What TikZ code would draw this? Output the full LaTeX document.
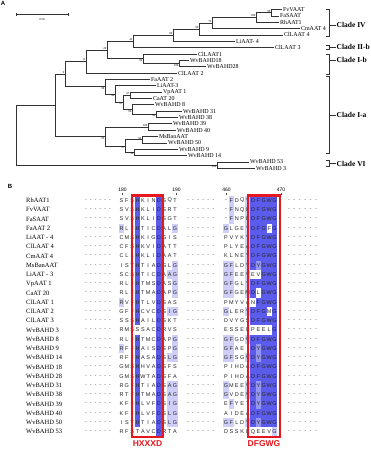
\documentclass[tikz,border=0pt]{standalone}
\usepackage{fontspec}
\setmainfont{Liberation Serif}
\setsansfont{Liberation Sans}
\usetikzlibrary{positioning}

\definecolor{shade0}{RGB}{255,255,255}
\definecolor{shade1}{RGB}{206,206,248}
\definecolor{shade2}{RGB}{150,150,240}
\definecolor{shade3}{RGB}{92,92,236}
\definecolor{boxred}{RGB}{228,24,30}

% one block of residues: letter + shade digit, '.' = empty cell
\makeatletter
\newcount\sq@k
\newcommand\seqblock[5]{%
  \def\sq@p{#1}\def\sq@x{#2}\def\sq@d{#3}\def\sq@y{#4}\sq@k=0
  \expandafter\sq@loop#5\relax\relax}
\def\sq@loop#1#2{\ifx\relax#1\else
    \ifx.#1\else
      \node[res,fill=shade#2] (\sq@p-\the\sq@k) at ({\sq@x+\sq@d*\the\sq@k},\sq@y) {#1};
    \fi
    \advance\sq@k by 1
    \expandafter\sq@loop\fi}
\makeatother

\begin{document}
\begin{tikzpicture}[x=1pt, y=-1pt,
  br/.style={draw=black!80, line width=0.6pt},
  leaf/.style={anchor=west, inner sep=0.8pt, font=\fontsize{6}{7}\selectfont},
  bs/.style={inner sep=0.4pt, font=\fontsize{3}{3}\selectfont},
  clade/.style={anchor=west, inner sep=0.5pt, font=\fontsize{7.5}{9}\selectfont\bfseries},
  panel/.style={inner sep=0pt, font=\fontsize{6}{7}\sffamily\bfseries},
  seqname/.style={anchor=west, inner sep=0pt, font=\fontsize{6.5}{7}\selectfont},
  res/.style={inner sep=0pt, minimum width=5.4pt, minimum height=9.25pt, font=\fontsize{5.5}{6}\sffamily, text=black!85},
  gap/.style={inner sep=0pt, font=\fontsize{5.5}{6}\sffamily, text=black!70},
  numlab/.style={inner sep=0pt, font=\fontsize{5}{6}\sffamily},
  motif/.style={inner sep=0pt, font=\fontsize{8.5}{10}\sffamily\bfseries, text=boxred}
]
  \path[fill=white] (0,0) rectangle (370,449);
  \useasboundingbox (0,0) rectangle (370,449);

  % ---- A: tree
  \node[panel] (pa) at (3,3) {A};
  \coordinate (sb1) at (16,14.7);
  \coordinate (sb2) at (68,14.7);
  \draw[br] (sb1) -- (sb2);
  \draw[br] ([yshift=-1.5pt]sb1) -- ([yshift=1.5pt]sb1) ([yshift=-1.5pt]sb2) -- ([yshift=1.5pt]sb2);
  \node[bs] (sbl) at (42,19.5) {0.50};

  \foreach \nm/\lab/\lx [count=\i from 0] in {
    fv/FvVAAT/282, fs/FaSAAT/279, rh/RhAAT1/279, cm4/CmAAT 4/300, cl4/ClLAAT 4/283,
    li4/LiAAT- 4/235, cl3/ClLAAT 3/274, cl1/ClLAAT1/197, wv18/WvBAHD18/189, wv28/WvBAHD28/206,
    cl2/ClLAAT 2/177, fa2/FaAAT 2/150, li3/LiAAT-3/156, vp1/VpAAT 1/162, ca20/CaAT 20/152,
    wv8/WvBAHD 8/154, wv31/WvBAHD 31/182, wv38/WvBAHD 38/178, wv39/WvBAHD 39/172, wv40/WvBAHD 40/176,
    ms/MsBanAAT/158, wv50/WvBAHD 50/167, wv9/WvBAHD 9/178, wv14/WvBAHD 14/187, wv53/WvBAHD 53/249, wv3/WvBAHD 3/255}
    \node[leaf] (\nm) at (\lx,{9.5+6.35*\i}) {\lab};

  \coordinate (n99a) at (271,12.68);
  \coordinate (n100a) at (256,17.44);
  \coordinate (n76) at (212,22.99);
  \coordinate (n90a) at (199,28.95);
  \coordinate (n90b) at (173,35.1);
  \coordinate (n42) at (133,41.35);
  \coordinate (n100b) at (179,63.48);
  \coordinate (n99b) at (143,58.71);
  \coordinate (n20) at (107,50.03);
  \coordinate (n11) at (86,61.52);
  \coordinate (n97a) at (130,95.23);
  \coordinate (n99c) at (156,114.28);
  \coordinate (n94) at (132,109.51);
  \coordinate (n97b) at (123,102.37);
  \coordinate (n46) at (115,94.03);
  \coordinate (n98) at (105,86.69);
  \coordinate (n9) at (65,74.1);
  \coordinate (n100c) at (148,126.98);
  \coordinate (n96) at (142,139.68);
  \coordinate (n58) at (134,152.38);
  \coordinate (n97c) at (125,146.03);
  \coordinate (n95) at (105,136.5);
  \coordinate (nA) at (55,105.3);
  \coordinate (n100d) at (217,165.08);
  \coordinate (root) at (16,135.19);

  \draw[br] (n99a) |- (fv.west) (n99a) |- (fs.west)
    (n100a) |- (n99a) (n100a) |- (rh.west)
    (n76) |- (n100a) (n76) |- (cm4.west)
    (n90a) |- (n76) (n90a) |- (cl4.west)
    (n90b) |- (n90a) (n90b) |- (li4.west)
    (n42) |- (n90b) (n42) |- (cl3.west)
    (n100b) |- (wv18.west) (n100b) |- (wv28.west)
    (n99b) |- (cl1.west) (n99b) |- (n100b)
    (n20) |- (n42) (n20) |- (n99b)
    (n11) |- (n20) (n11) |- (cl2.west)
    (n97a) |- (vp1.west) (n97a) |- (ca20.west)
    (n99c) |- (wv31.west) (n99c) |- (wv38.west)
    (n94) |- (wv8.west) (n94) |- (n99c)
    (n97b) |- (n97a) (n97b) |- (n94)
    (n46) |- (li3.west) (n46) |- (n97b)
    (n98) |- (fa2.west) (n98) |- (n46)
    (n9) |- (n11) (n9) |- (n98)
    (n100c) |- (wv39.west) (n100c) |- (wv40.west)
    (n96) |- (ms.west) (n96) |- (wv50.west)
    (n58) |- (wv9.west) (n58) |- (wv14.west)
    (n97c) |- (n96) (n97c) |- (n58)
    (n95) |- (n100c) (n95) |- (n97c)
    (nA) |- (n9) (nA) |- (n95)
    (n100d) |- (wv53.west) (n100d) |- (wv3.west)
    (root) |- (nA) (root) |- (n100d);

  % bootstrap values
  \foreach \c/\v in {n99a/99, n100a/100, n76/76, n90a/90, n90b/90, n42/42, n20/20, n11/11, n9/9,
                     n97a/97, n100c/100, n96/96}
    \node[bs, above left] (b\c) at (\c) {\v};
  \foreach \c/\v in {n99b/99, n100b/100, n98/98, n46/46, n97b/97, n94/94, n99c/99, n95/95,
                     n97c/97, n58/58, n100d/100}
    \node[bs, below left] (b\c) at (\c) {\v};

  % clades
  \node[clade] (cIV) at (336,25) {Clade IV};
  \node[clade] (cIIb) at (336,47) {Clade II-b};
  \node[clade] (cIb) at (336,60) {Clade I-b};
  \node[clade] (cIa) at (336,115) {Clade I-a};
  \node[clade] (cVI) at (336,163.5) {Clade VI};
  \draw[br] (326,9) -- (329,9) -- (329,36) -- (326,36) (329,25) -- (cIV.west);
  \draw[br] (326,45) -- (329,45) -- (329,49.5) -- (326,49.5) (329,47) -- (cIIb.west);
  \draw[br] (326,54) -- (329,54) -- (329,74) -- (326,74) (329,60) -- (cIb.west);
  \draw[br] (326,76) -- (329,76) -- (329,153.5) -- (326,153.5) (329,115) -- (cIa.west);
  \draw[br] (326,160) -- (329,160) -- (329,166.5) -- (326,166.5) (329,163.5) -- (cVI.west);

  % ---- B: alignment
  \node[panel] (pb) at (10,186) {B};
  \foreach \p/\v in {122.5/180, 176.5/190, 226.5/460, 281/470}{
    \node[numlab] (p\v) at (\p,189.5) {\v};
    \draw[black!70, line width=0.4pt] (\p,192.6) -- (\p,194.8);
  }

  \foreach \nm/\sa/\sb [count=\r] in {
    RhAAT1/S0F0S0H3K0I0N0D3S0Q0T0/-0F1D0Q0Y1D3F3G3W3G3,
    FvVAAT/S0V0S0H3K0L0I0D3S0R0T0/-0F1N0Q0L1D3F3G3W3G3,
    FaSAAT/S0V0S0H3K0L0I0D3S0G0T0/-0F1N0P0L1D3F3G3W3G3,
    FaAAT 2/R1L0F0H3T0I0C0D3A0L0G1/G1L0G0E0Y1D3F3G3F0G3,
    LiAAT - 4/C0M0S0H3K0I0G0D3G0I0S0/P0V0Y0K0Y1D3F3G3W3G3,
    ClLAAT 4/C0F0S0H3K0V0I0D3A0T0T0/P0L0Y0E0A1D3F3G3W3G3,
    CmAAT 4/C0L0L0H3K0L0I0D3A0A0T0/K0L0N0E0Y1D3F3G3W3G3,
    MsBanAAT/I0S0Y0H3T0I0A0D3G0L0G1/G1F1L0D0Y1D3Y2G3W3G3,
    LiAAT - 3/S0C0S0H3T0I0C0D3A0A1G1/G1F1E0E0V1E0V0G3W3G3,
    VpAAT 1/R0L0F0H3T0M0S0D3A0S0G1/G1F1G0L0Y1D3F3G3W3G3,
    CaAT 20/R0L0F0H3T0M0A0D3A0P0G1/G1F1G0E0M1D3L0G3W3G3,
    ClLAAT 1/R1V0F0H3T0L0V0D3S0A0S0/P0M0Y0V0A0N0F3G3W3G3,
    ClLAAT 2/G0F0F0H3C0V0C0D3S0I1G1/G1L0E0R0Y1D3F3G3M0G3,
    ClLAAT 3/S0S0S0H3A0I0L0D3S0K0T0/D0V0Y0G0S0D3F3G3W3G3,
    WvBAHD 3/R0M0S0S0S0A0C0D3R0V0S0/E0S0S0E0L0P0E0E0L0G3,
    WvBAHD 8/R0L0F0H3T0M0C0D3A0P0G1/G1F1G0D0V1D3F3G3W3G3,
    WvBAHD 9/R1F0F0H3A0I0S0D3S0P0G1/G1F1A0E0.0D3Y2G3W3G3,
    WvBAHD 14/R0F0F0H3A0S0A0D3S0L1G1/G1F1S0G0V1D3Y2G3W3G3,
    WvBAHD 18/G0M0S0H3H0V0A0D3S0F0S0/P0I0H0D0A0D3F3G3W3G3,
    WvBAHD 28/G0M0S0H3W0T0A0D3S0F0A0/P0I0H0D0A0D3F3G3W3G3,
    WvBAHD 31/R0G0F0H3T0I0A0D3S0A1G1/G1M0E0E0V1D3Y2G3W3G3,
    WvBAHD 38/R0T0F0H3T0M0A0D3S0A1G1/G1V0D0E0V1D3Y2G3W3G3,
    WvBAHD 39/K0F0F0H3L0V0F0D3S0I1G1/E0F1Y0E0T0D3Y2G3W3G3,
    WvBAHD 40/K0F0F0H3L0V0F0D3S0L1G1/A0I0D0E0A0D3F3G3W3G3,
    WvBAHD 50/I0S0Y0H3T0I0A0D3S0L1G1/G1F1L0D0Y1D3Y2G3W3G3,
    WvBAHD 53/R0F0S0T0A0V0C0D3R0T0A0/D0S0S0K0L0Q0E0E0V0G1}{
    \pgfmathsetmacro\ry{200.5+9.25*(\r-1)}
    \node[seqname] (s\r) at (26,\ry) {\nm};
    \foreach \i in {0,...,5}{
      \node[gap] (ga\r-\i) at (86+4.8*\i,\ry) {-};
      \node[gap] (gb\r-\i) at (188+5.1*\i,\ry) {-};
      \node[gap] (gc\r-\i) at (289+5.4*\i,\ry) {-};
    }
    \seqblock{ra\r}{121.5}{5.35}{\ry}{\sa}
    \seqblock{rb\r}{226}{5.4}{\ry}{\sb}
  }

  % motif boxes
  \draw[boxred, line width=2.2pt] (131.7,195.4) rectangle (163.3,436.6);
  \draw[boxred, line width=2.2pt] (248,195.4) rectangle (280,436.6);
  \node[motif] (hx) at (147.5,444) {HXXXD};
  \node[motif] (df) at (264,444) {DFGWG};
\end{tikzpicture}
\end{document}
